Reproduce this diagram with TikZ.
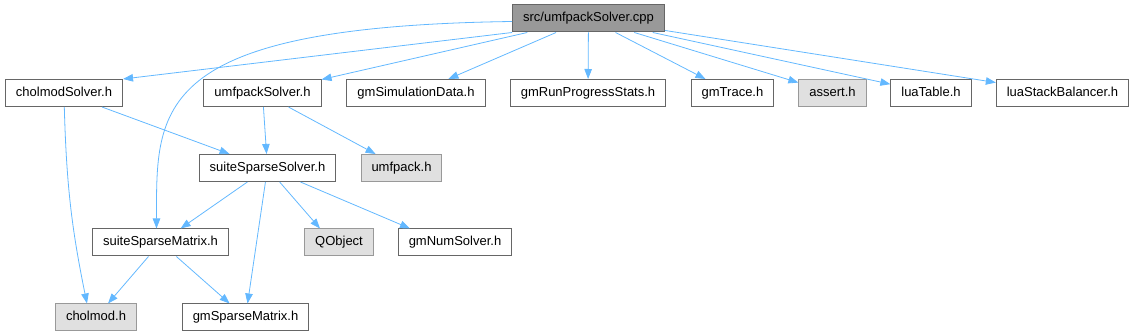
\documentclass[tikz,border=0pt]{standalone}
\usepackage{fontspec}
\setmainfont{Liberation Sans}
\usetikzlibrary{arrows.meta}
\definecolor{linkblue}{RGB}{99,184,255}
\definecolor{boxline}{RGB}{102,102,102}
\definecolor{extline}{RGB}{153,153,153}
\definecolor{extfill}{RGB}{224,224,224}
\definecolor{mainfill}{RGB}{153,153,153}

\begin{document}
\begin{tikzpicture}[x=1pt, y=-1pt,
    file/.style={draw=boxline, line width=1pt, fill=white, inner xsep=10.5pt,
        minimum height=27pt, text height=9.5pt, text depth=2.5pt,
        font=\fontsize{13}{15}\selectfont},
    extfile/.style={file, draw=extline, fill=extfill},
    mainfile/.style={file, fill=mainfill},
    dep/.style={linkblue, line width=0.8pt, -{Triangle[length=10pt,width=7.5pt]}}]
    \useasboundingbox (0,0) rectangle (1136,336);

    \node[mainfile] (cpp) at (588.5,18.5) {src/umfpackSolver.cpp};

    \node[file] (cholmodSolver) at (64,93) {cholmodSolver.h};
    \node[file] (umfpackSolver) at (262.5,93) {umfpackSolver.h};
    \node[file] (simData) at (416,93) {gmSimulationData.h};
    \node[file] (runStats) at (588,93) {gmRunProgressStats.h};
    \node[file] (trace) at (732.5,93) {gmTrace.h};
    \node[extfile] (assert) at (832.5,93) {assert.h};
    \node[file] (luaTable) at (931,93) {luaTable.h};
    \node[file] (luaBalancer) at (1062.5,93) {luaStackBalancer.h};

    \node[file] (ssSolver) at (267.5,168) {suiteSparseSolver.h};
    \node[extfile] (umfpack) at (401.5,168) {umfpack.h};

    \node[file] (ssMatrix) at (160.5,242.5) {suiteSparseMatrix.h};
    \node[extfile] (qobject) at (339,242.5) {QObject};
    \node[file] (numSolver) at (455,242.5) {gmNumSolver.h};

    \node[extfile] (cholmod) at (96,317.5) {cholmod.h};
    \node[file] (sparseMatrix) at (245.5,317.5) {gmSparseMatrix.h};

    % includes of the source file
    \draw[dep] (cpp.south west) -- (cholmodSolver.north east);
    \draw[dep] ([yshift=-3pt]cpp.west) .. controls +(-361,5) and +(0,-120) .. ([xshift=-4pt]ssMatrix.north);
    \draw[dep] (cpp) -- (umfpackSolver);
    \draw[dep] (cpp) -- (simData);
    \draw[dep] (cpp) -- (runStats);
    \draw[dep] (cpp) -- (trace);
    \draw[dep] (cpp) -- (assert);
    \draw[dep] (cpp) -- (luaTable);
    \draw[dep] (cpp) -- (luaBalancer);

    \draw[dep] (cholmodSolver) -- (ssSolver);
    \draw[dep] (cholmodSolver) to[bend right=5] ([xshift=-9pt]cholmod.north);
    \draw[dep] (umfpackSolver) -- (ssSolver);
    \draw[dep] (umfpackSolver) -- (umfpack);

    \draw[dep] (ssSolver) -- (ssMatrix);
    \draw[dep] (ssSolver) -- (sparseMatrix);
    \draw[dep] (ssSolver) -- ([xshift=-19pt]qobject.north);
    \draw[dep] (ssSolver) -- ([xshift=-45pt]numSolver.north);

    \draw[dep] (ssMatrix) -- (cholmod);
    \draw[dep] (ssMatrix) -- (sparseMatrix);
\end{tikzpicture}
\end{document}
